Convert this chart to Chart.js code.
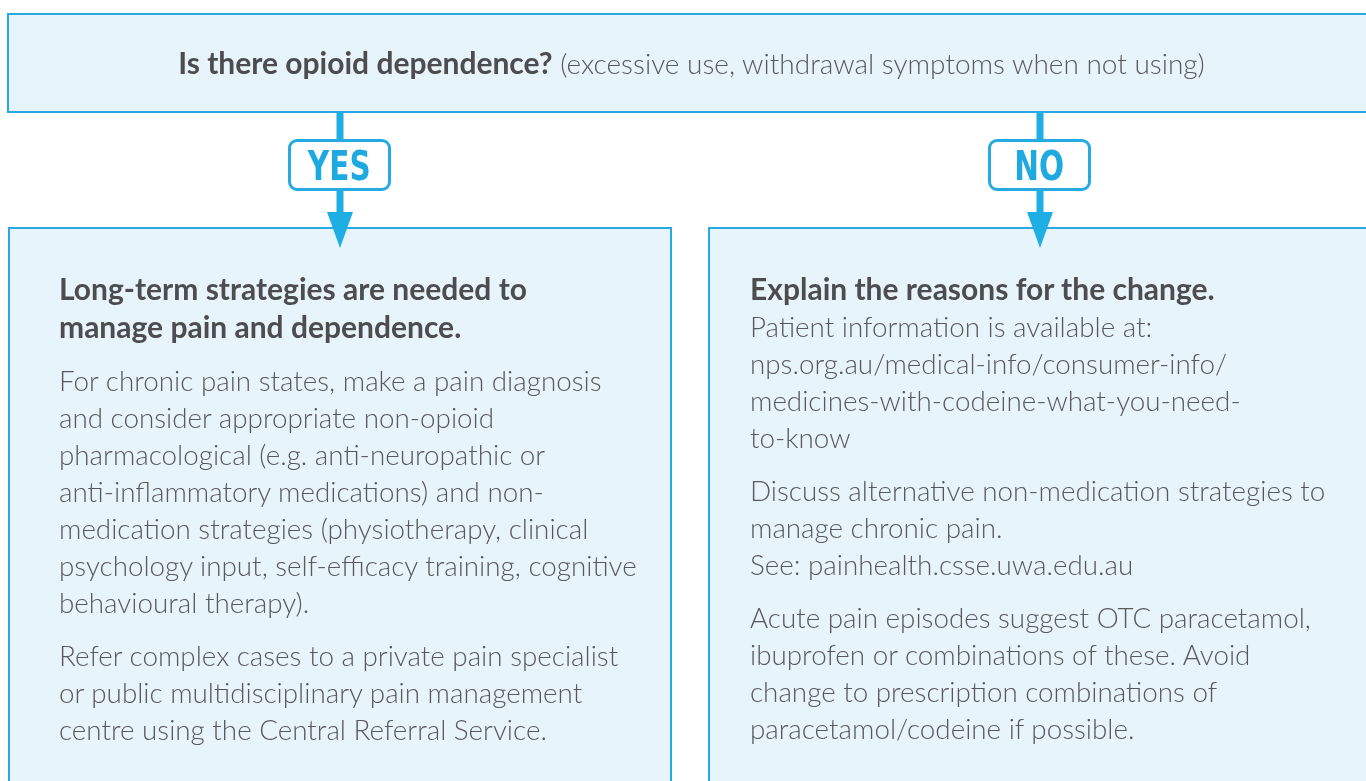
<!DOCTYPE html>
<html>
<head>
<meta charset="utf-8">
<script src="https://cdn.jsdelivr.net/npm/chart.js@4/dist/chart.umd.min.js"></script>
<style>
html, body {
    margin: 0;
    padding: 0;
    width: 1366px;
    height: 781px;
    overflow: hidden;
    background: #ffffff;
    font-family: "Lato", "Open Sans", sans-serif;
}
.box {
    position: absolute;
    box-sizing: border-box;
    background: #e8f4fb;
    border: 2px solid #27aae1;
}
#flowCanvas {
    position: absolute;
    left: 0;
    top: 0;
    z-index: 1;
}
.label {
    position: absolute;
    z-index: 2;
    box-sizing: border-box;
    width: 103px;
    height: 52px;
    background: #ffffff;
    border: 3px solid #27aae1;
    border-radius: 9px;
    color: #1fa9e1;
    font-family: "DejaVu Sans Condensed", "DejaVu Sans", sans-serif;
    font-weight: bold;
    font-size: 41px;
    line-height: 49px;
    text-align: center;
}
.label span {
    display: inline-block;
    transform: scaleX(0.8);
}
.text {
    position: absolute;
    z-index: 2;
    color: #58595b;
    font-size: 27.8px;
    font-weight: 300;
    line-height: 37px;
    white-space: nowrap;
}
.text p {
    margin: 0 0 16px 0;
}
.text b {
    color: #4d4d4f;
    font-weight: 700;
    font-size: 30px;
}
#question {
    position: absolute;
    z-index: 2;
    left: 0;
    width: 1383px;
    top: 44px;
    text-align: center;
    color: #58595b;
    font-size: 28px;
    font-weight: 300;
    line-height: 37px;
    white-space: nowrap;
}
#question b {
    color: #4d4d4f;
    font-weight: 700;
    font-size: 30px;
}
</style>
</head>
<body>

<div class="box" style="left:7px; top:13px; width:1380px; height:100px;"></div>
<div class="box" style="left:8px; top:227px; width:664px; height:600px;"></div>
<div class="box" style="left:708px; top:227px; width:700px; height:600px;"></div>

<canvas id="flowCanvas" width="1366" height="781"></canvas>

<div id="question"></div>
<div id="labels"></div>
<div class="text" id="leftText" style="left:59px; top:270px;"></div>
<div class="text" id="rightText" style="left:750px; top:270px;"></div>

<script>

// =========================
// Flowchart content
// =========================

const questionBold = "Is there opioid dependence?";
const questionNote = "(excessive use, withdrawal symptoms when not using)";

const branchLabels = ["YES", "NO"];

const leftHeading = [
    "Long-term strategies are needed to",
    "manage pain and dependence."
];

const leftParagraphs = [
    [
        "For chronic pain states, make a pain diagnosis",
        "and consider appropriate non-opioid",
        "pharmacological (e.g. anti-neuropathic or",
        "anti-inflammatory medications) and non-",
        "medication strategies (physiotherapy, clinical",
        "psychology input, self-efficacy training, cognitive",
        "behavioural therapy)."
    ],
    [
        "Refer complex cases to a private pain specialist",
        "or public multidisciplinary pain management",
        "centre using the Central Referral Service."
    ]
];

const rightHeading = [
    "Explain the reasons for the change."
];

const rightParagraphs = [
    [
        "Patient information is available at:",
        "nps.org.au/medical-info/consumer-info/",
        "medicines-with-codeine-what-you-need-",
        "to-know"
    ],
    [
        "Discuss alternative non-medication strategies to",
        "manage chronic pain.",
        "See: painhealth.csse.uwa.edu.au"
    ],
    [
        "Acute pain episodes suggest OTC paracetamol,",
        "ibuprofen or combinations of these. Avoid",
        "change to prescription combinations of",
        "paracetamol/codeine if possible."
    ]
];

// layout of the connectors (page pixels)
const branchX = [340, 1040];
const stemTop = 112;
const stemBottom = 214;
const headCentre = 230;
const lineColor = "#1eaee4";

// =========================
// Text blocks
// =========================

document.getElementById("question").innerHTML =
    "<b>" + questionBold + "</b> " + questionNote;

function fillText(id, heading, paragraphs, headingAlone) {

    const el = document.getElementById(id);
    let html = "";

    if (headingAlone) {
        html += "<p><b>" + heading.join("<br>") + "</b></p>";
        paragraphs.forEach(p => {
            html += "<p>" + p.join("<br>") + "</p>";
        });
    } else {
        html += "<p><b>" + heading.join("<br>") + "</b><br>" +
            paragraphs[0].join("<br>") + "</p>";
        paragraphs.slice(1).forEach(p => {
            html += "<p>" + p.join("<br>") + "</p>";
        });
    }

    el.innerHTML = html;
}

fillText("leftText", leftHeading, leftParagraphs, true);
fillText("rightText", rightHeading, rightParagraphs, false);

// branch labels sit on the stems
const labelBox = document.getElementById("labels");

branchLabels.forEach((name, i) => {
    const d = document.createElement("div");
    d.className = "label";
    d.style.left = (branchX[i] - 52) + "px";
    d.style.top = "139px";
    const s = document.createElement("span");
    s.innerText = name;
    d.appendChild(s);
    labelBox.appendChild(d);
});

// =========================
// Connectors (Chart.js)
// =========================

const head = document.createElement("canvas");
head.width = 26;
head.height = 36;
const hctx = head.getContext("2d");
hctx.fillStyle = lineColor;
hctx.beginPath();
hctx.moveTo(0, 0);
hctx.lineTo(26, 0);
hctx.lineTo(13, 36);
hctx.closePath();
hctx.fill();

const datasets = [];

branchLabels.forEach((name, i) => {

    datasets.push({
        label: name + " stem",
        data: [
            { x: branchX[i], y: stemTop },
            { x: branchX[i], y: stemBottom }
        ],
        showLine: true,
        borderColor: lineColor,
        borderWidth: 7,
        borderCapStyle: "butt",
        pointRadius: 0
    });

    datasets.push({
        label: name + " head",
        data: [{ x: branchX[i], y: headCentre }],
        showLine: false,
        pointStyle: head,
        pointRadius: 13
    });
});

new Chart(document.getElementById("flowCanvas"), {
    type: "scatter",
    data: { datasets: datasets },
    options: {
        responsive: false,
        animation: false,
        events: [],
        layout: { padding: 0, autoPadding: false },
        plugins: {
            legend: { display: false },
            tooltip: { enabled: false }
        },
        scales: {
            x: { type: "linear", min: 0, max: 1366, display: false },
            y: { type: "linear", min: 0, max: 781, reverse: true, display: false }
        }
    }
});

</script>
</body>
</html>
